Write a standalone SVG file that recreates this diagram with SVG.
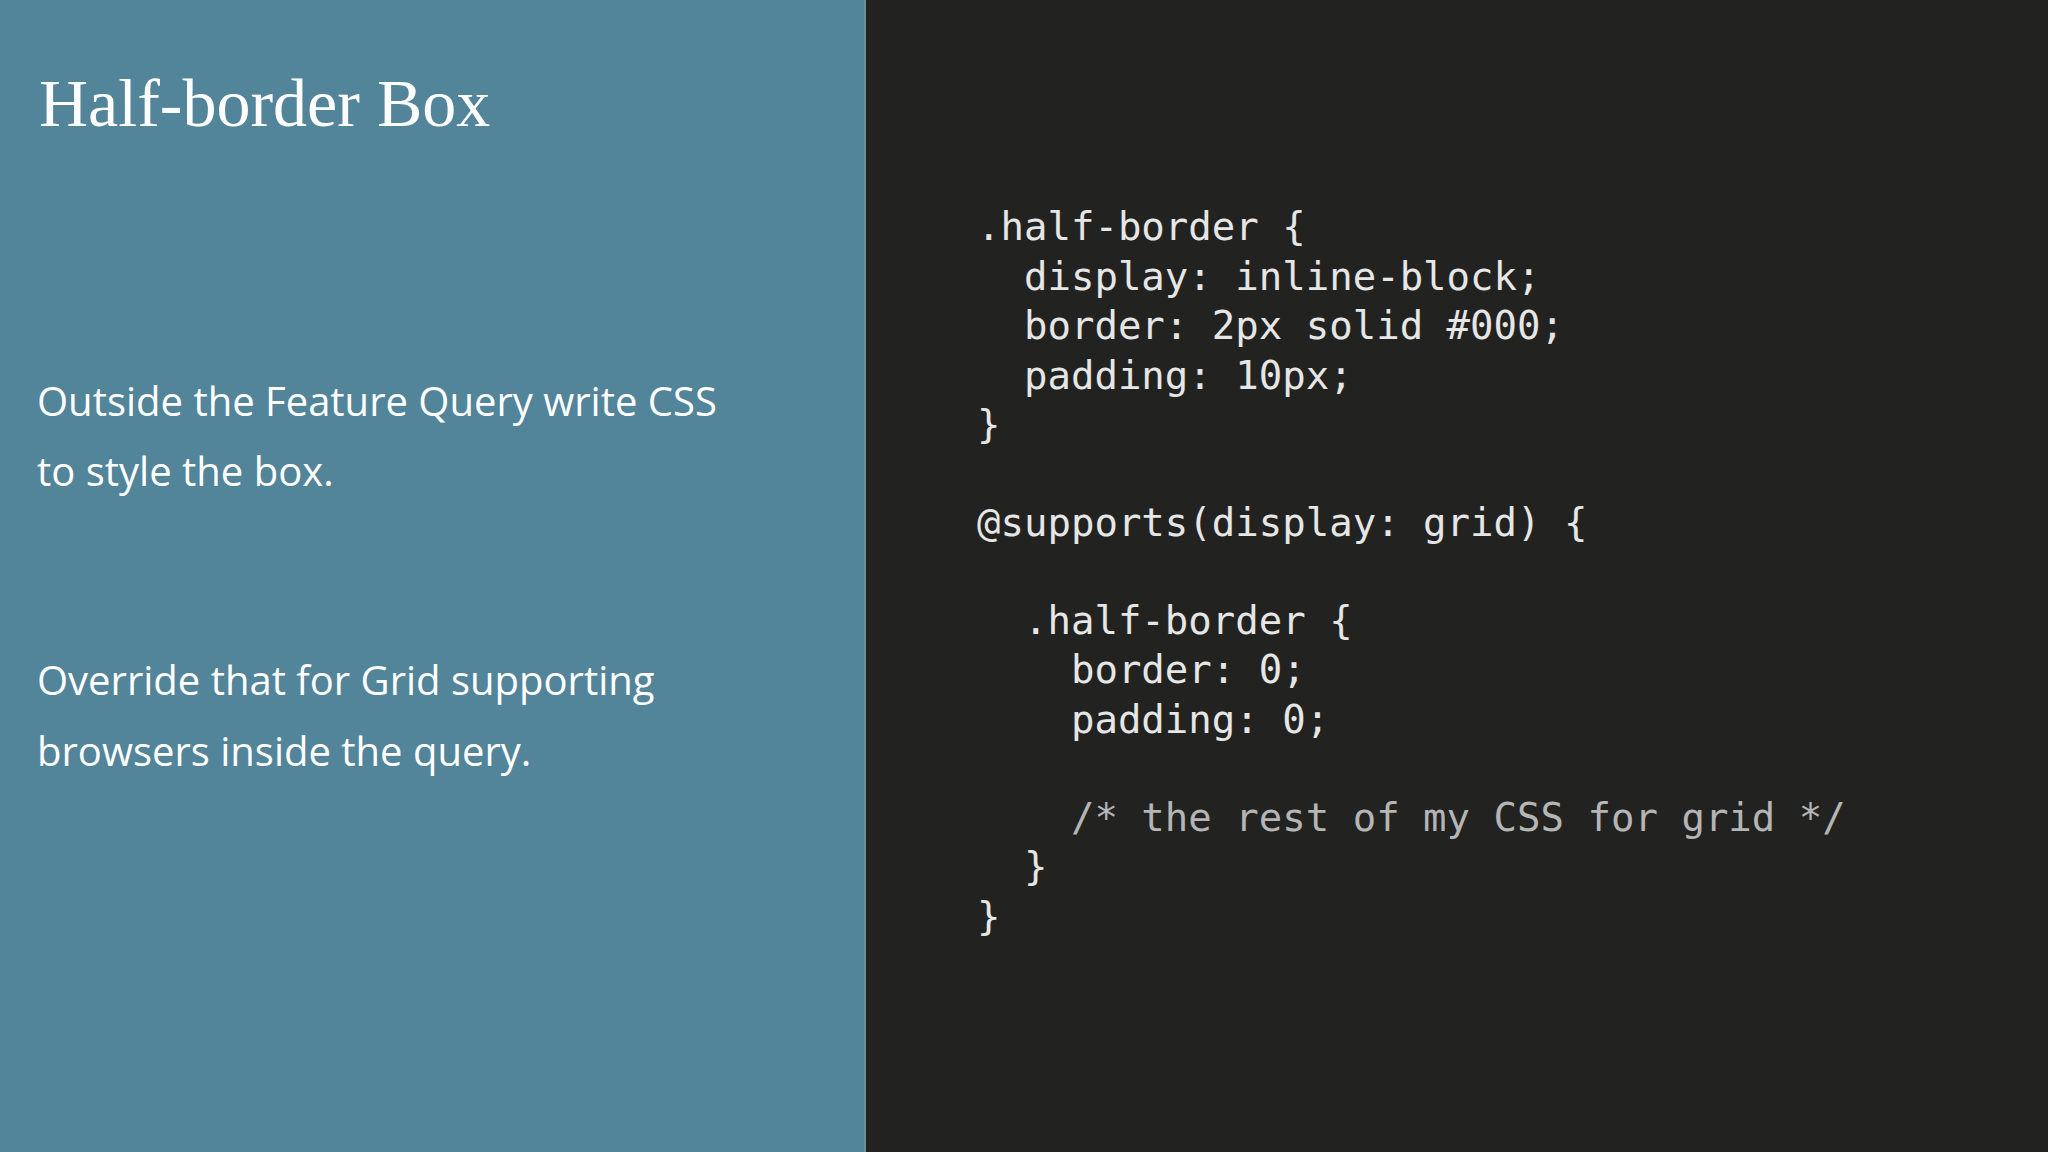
<svg xmlns="http://www.w3.org/2000/svg" width="2048" height="1152" viewBox="0 0 2048 1152">
<style>
.body{font-family:"Open Sans","Noto Sans",sans-serif;font-size:40px;fill:#ffffff}
.code{font-family:"DejaVu Sans Mono","Liberation Mono",monospace;font-size:39px;fill:#e6e6e6;white-space:pre}
.cm{fill:#b5b5b5}
</style>
<rect x="0" y="0" width="2048" height="1152" fill="#222321"/>
<g id="left-panel">
<rect x="0" y="0" width="865" height="1152" fill="#52849a"/>
<line x1="865" y1="0" x2="865" y2="1152" stroke="#6a8e9c" stroke-width="2"/>
<text x="39" y="126" font-family="Liberation Serif,serif" font-size="68" fill="#ffffff">Half-border Box</text>
<text class="body" x="37" y="416">Outside the Feature Query write CSS</text>
<text class="body" x="37" y="486">to style the box.</text>
<text class="body" x="37" y="695">Override that for Grid supporting</text>
<text class="body" x="37" y="766">browsers inside the query.</text>
</g>
<g id="code">
<text class="code" x="977" y="240">.half-border {</text>
<text class="code" x="977" y="290">  display: inline-block;</text>
<text class="code" x="977" y="339">  border: 2px solid #000;</text>
<text class="code" x="977" y="389">  padding: 10px;</text>
<text class="code" x="977" y="438">}</text>
<text class="code" x="977" y="536">@supports(display: grid) {</text>
<text class="code" x="977" y="634">  .half-border {</text>
<text class="code" x="977" y="683">    border: 0;</text>
<text class="code" x="977" y="733">    padding: 0;</text>
<text class="code cm" x="977" y="831">    /* the rest of my CSS for grid */</text>
<text class="code" x="977" y="880">  }</text>
<text class="code" x="977" y="930">}</text>
</g>
</svg>
